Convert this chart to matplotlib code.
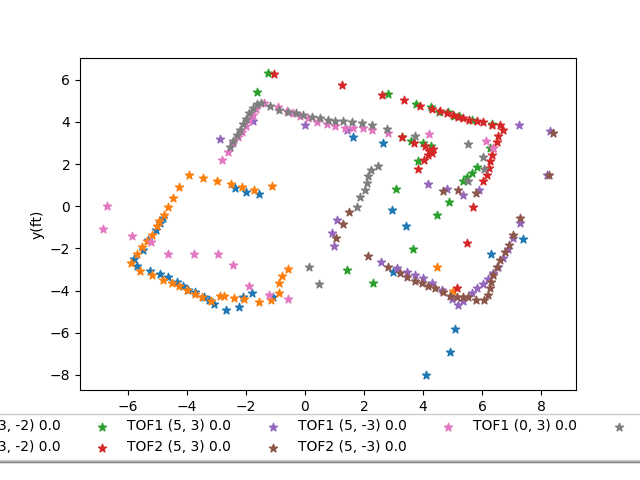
import matplotlib
matplotlib.use("Agg")
import matplotlib.pyplot as plt


# ---------- data ----------
labels = ["TOF1 (-3, -2) 0.0", "TOF2 (-3, -2) 0.0",
          "TOF1 (5, 3) 0.0", "TOF2 (5, 3) 0.0",
          "TOF1 (5, -3) 0.0", "TOF2 (5, -3) 0.0",
          "TOF1 (0, 3) 0.0", "TOF2 (0, 3) 0.0"]

tof1_a_x = [-4.81, -4.92, -5.05, -5.32, -5.49, -5.80, -5.69, -5.25, -4.92, -4.64, -4.34, -4.14,
            -3.97, -3.73, -3.42, -3.25, -3.08, -2.68, -2.24, -2.10, -1.80, -1.08, -2.37, -2.0,
            -1.56, 1.63, 2.64, 2.95, 2.98, 3.42, 7.39, 6.31, 5.08, 4.92, 4.10]
tof1_a_y = [-0.55, -0.79, -1.12, -1.59, -2.07, -2.50, -2.83, -3.07, -3.21, -3.35, -3.59, -3.78,
            -3.97, -4.06, -4.30, -4.44, -4.63, -4.92, -4.77, -4.30, -4.11, -4.30, 0.87, 0.68,
            0.59, 3.29, 3.01, -0.17, -3.11, -0.93, -1.55, -2.26, -5.82, -6.91, -8.01]

tof2_a_x = [-3.93, -4.27, -4.47, -4.64, -4.78, -4.95, -5.02, -5.19, -5.36, -5.53, -5.69, -5.90,
            -5.59, -5.19, -4.81, -4.51, -4.27, -4.00, -3.73, -3.49, -3.19, -2.88, -2.75, -2.41,
            -2.07, -1.56, -1.15, -0.88, -0.88, -0.78, -0.58, -3.46, -2.98, -2.51, -2.14, -1.73,
            -1.12, 4.47, 5.02]
tof2_a_y = [1.49, 0.92, 0.40, -0.03, -0.41, -0.69, -0.93, -1.36, -1.64, -1.93, -2.26, -2.69,
            -3.07, -3.26, -3.49, -3.64, -3.78, -3.97, -4.16, -4.30, -4.49, -4.25, -4.25, -4.35,
            -4.39, -4.54, -4.44, -4.11, -3.64, -3.30, -2.97, 1.35, 1.21, 1.06, 0.92, 0.78,
            0.97, -2.87, -4.01]

tof1_b_x = [-1.25, -1.63, 2.81, 3.76, 4.27, 4.85, 5.22, 5.66, 6.34, 3.29, 3.59, 4.00, 4.27,
            3.83, 6.27, 5.83, 5.66, 5.49, 5.36, 3.08, 4.88, 4.47, 3.66, 1.42, 2.31, 4.55, 5.05]
tof1_b_y = [6.33, 5.43, 5.33, 4.86, 4.72, 4.48, 4.29, 4.10, 3.91, 3.29, 3.10, 3.01, 2.87,
            2.16, 2.77, 1.88, 1.59, 1.40, 1.21, 0.83, 0.21, -0.41, -2.02, -3.02, -3.64, 4.45, 4.30]

tof2_b_x = [-1.05, 1.25, 2.61, 3.36, 3.29, 3.90, 4.31, 4.58, 4.81, 5.02, 5.19, 5.36, 5.56,
            5.83, 6.03, 6.34, 6.61, 6.71, 6.54, 6.51, 6.37, 6.34, 6.27, 6.24, 6.17, 6.03, 5.69,
            3.69, 4.07, 4.20, 4.34, 4.31, 4.17, 4.03, 3.83, 5.49, 5.15]
tof2_b_y = [6.28, 5.76, 5.29, 5.05, 3.29, 4.77, 4.62, 4.53, 4.43, 4.34, 4.24, 4.20, 4.10,
            4.05, 4.01, 3.86, 3.86, 3.63, 3.34, 3.06, 2.77, 2.44, 2.16, 1.82, 1.49, 1.21, -0.03,
            3.01, 2.87, 2.63, 2.72, 2.53, 2.44, 2.20, 1.78, -1.74, -3.87]

tof1_c_x = [-2.88, -1.76, 0.00, 1.42, 7.25, 8.31, 8.20, 4.17, 4.81, 5.36, 5.90, 1.08, 0.92,
            0.98, 2.58, 3.12, 3.46, 3.73, 4.00, 4.31, 4.64, 4.98, 5.19, 5.36, 5.66, 5.83, 6.03,
            6.20, 6.37, 6.54, 6.71, 6.88, 7.05, 7.29]
tof1_c_y = [3.20, 4.05, 3.86, 3.63, 3.86, 3.58, 1.49, 1.06, 0.83, 0.54, 0.78, -0.65, -1.26,
            -1.88, -2.64, -2.92, -3.11, -3.26, -3.40, -3.64, -3.97, -4.39, -4.68, -4.49, -4.11,
            -3.87, -3.68, -3.45, -3.16, -2.88, -2.45, -2.02, -1.50, -0.79]

tof2_c_x = [8.41, 8.27, 4.68, 5.19, 5.80, 1.49, 1.29, 1.05, 2.14, 2.81, 3.22, 3.46, 3.73,
            3.97, 4.17, 4.41, 4.68, 4.92, 5.15, 5.36, 5.53, 5.80, 6.07, 6.20, 6.27, 6.31, 6.37,
            6.51, 6.61, 6.78, 6.92, 7.05, 7.29]
tof2_c_y = [3.48, 1.49, 0.73, 0.78, 0.64, -0.27, -0.84, -1.50, -2.35, -2.88, -3.16, -3.35,
            -3.54, -3.64, -3.78, -3.87, -4.06, -4.25, -4.30, -4.30, -4.30, -4.44, -4.44, -4.21,
            -3.87, -3.59, -3.26, -2.88, -2.54, -2.16, -1.83, -1.36, -0.55]

tof1_d_x = [-6.71, -6.85, -5.86, -5.22, -4.64, -3.76, -2.95, -2.44, -1.90, -1.22, -0.58,
            -2.81, -2.61, -2.44, -2.27, -2.14, -2.00, -1.90, -1.76, -1.66, -1.39, -0.92, -0.61,
            -0.41, -0.17, 0.10, 0.41, 0.75, 1.02, 1.36, 1.63, 1.97, 2.27, 2.81, 4.20, 6.14, 6.37]
tof1_d_y = [0.02, -1.07, -1.40, -1.69, -2.26, -2.26, -2.26, -2.78, -3.78, -4.21, -4.39,
            2.20, 2.58, 3.01, 3.29, 3.53, 3.82, 4.10, 4.34, 4.62, 4.91, 4.72, 4.53,
            4.43, 4.29, 4.20, 4.01, 3.91, 3.82, 3.72, 3.72, 3.72, 3.63, 3.48, 3.44, 3.10, 2.77]

tof2_d_x = [-2.54, -2.44, -2.31, -2.20, -2.10, -2.00, -1.90, -1.76, -1.63, -1.49, -1.19,
            -0.88, -0.58, -0.31, -0.07, 0.24, 0.51, 0.78, 1.02, 1.29, 1.59, 1.93, 2.27, 2.78,
            3.73, 5.53, 6.03, 6.07, 5.53, 2.47, 2.24, 2.14, 2.10, 2.03, 1.86, 1.76, 0.14, 0.47]
tof2_d_y = [2.82, 3.10, 3.39, 3.63, 3.91, 4.15, 4.43, 4.67, 4.86, 4.91, 4.76,
            4.58, 4.48, 4.43, 4.34, 4.24, 4.20, 4.10, 4.05, 4.05, 4.01, 3.96, 3.86, 3.67,
            3.34, 2.96, 2.34, 1.78, 1.21, 1.92, 1.73, 1.44, 1.11, 0.78, 0.45, -0.03, -2.88, -3.68]

xs = [tof1_a_x, tof2_a_x, tof1_b_x, tof2_b_x, tof1_c_x, tof2_c_x, tof1_d_x, tof2_d_x]
ys = [tof1_a_y, tof2_a_y, tof1_b_y, tof2_b_y, tof1_c_y, tof2_c_y, tof1_d_y, tof2_d_y]


# ---------- plot ----------
fig, ax = plt.subplots(figsize=(6.4, 4.8), dpi=100)
for x, y, lab in zip(xs, ys, labels):
    ax.scatter(x, y, marker="*", label=lab)

ax.set_ylabel("y(ft)")

# shrink axis height by 10% on the bottom to make room for the legend
box = ax.get_position()
ax.set_position([box.x0, box.y0 + box.height * 0.1, box.width, box.height * 0.9])
ax.legend(loc="upper center", bbox_to_anchor=(0.5, -0.05), shadow=True, ncol=5)

fig.savefig("out.png")
